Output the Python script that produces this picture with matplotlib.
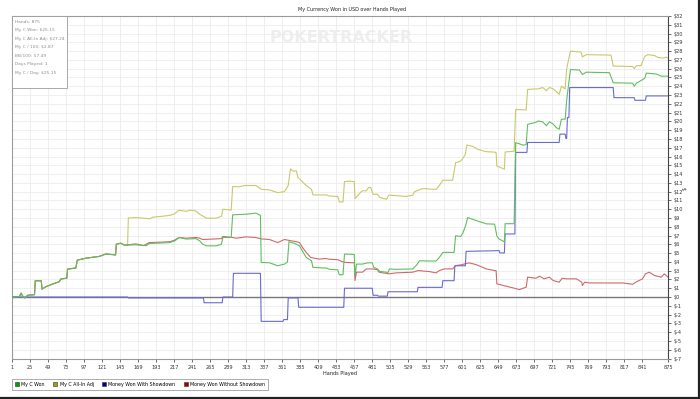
import matplotlib
matplotlib.use("Agg")
import matplotlib.pyplot as plt
from matplotlib.patches import Rectangle, Patch
from matplotlib.lines import Line2D

plt.rcParams['font.family'] = ['DejaVu Sans']

title = "My Currency Won in USD over Hands Played"
x_label = "Hands Played"
y_label = "$"
watermark = "POKERTRACKER"
series_names = ["My C Won", "My C All-In Adj", "Money Won With Showdown", "Money Won Without Showdown"]
stats_lines = ["Hands: 875", "My C Won: $25.15", "My C All-In Adj: $27.24", "My C / 100: $2.87",
               "BB/100: 57.49", "Days Played: 1", "My C / Day: $25.15"]
x_ticks = list(range(1, 842, 24)) + [875]
y_ticks = list(range(-7, 33))

# (hand, dollars) breakpoints
green_pts = [(1, 0), (11, 0.05), (13, 0.45), (16, 0), (18, -0.1), (22, 0.2), (31, 0.27), (32, 1.85), (40, 1.85),
             (41, 0.9), (46, 1.17), (55, 1.48), (64, 1.74), (66, 2.05), (74, 2.15), (75, 3.18), (86, 3.3), (88, 4.2),
             (100, 4.43), (117, 4.62), (126, 4.9), (139, 4.8), (140, 6.02), (146, 6.13), (151, 5.9), (166, 5.95),
             (180, 5.85), (184, 6.1), (200, 6.15), (211, 6.2), (218, 6.4), (224, 6.78), (233, 6.6), (246, 6.65),
             (251, 6.4), (255, 6.02), (260, 5.83), (273, 5.83), (280, 6.0), (282, 6.78), (293, 6.78), (295, 9.36),
             (313, 9.43), (326, 9.55), (332, 9.3), (333, 3.94), (344, 3.9), (355, 3.56), (364, 3.75), (368, 4.0),
             (370, 6.3), (373, 6.21), (378, 6.1), (384, 5.83), (389, 5.08), (393, 4.5), (400, 4.13), (402, 3.37),
             (420, 3.3), (424, 3.15), (435, 3.1), (437, 2.54), (442, 2.54), (444, 4.89), (457, 4.85), (458, 2.43),
             (460, 3.75), (468, 3.75), (475, 3.9), (481, 3.9), (483, 3.37), (488, 3.2), (491, 2.92), (502, 2.8),
             (504, 3.2), (513, 3.15), (535, 3.2), (540, 3.64), (544, 4.13), (557, 4.1), (566, 4.1), (570, 4.47),
             (575, 5.08), (590, 5.08), (592, 6.97), (599, 6.9), (602, 7.35), (606, 8.3), (608, 9.05), (619, 8.72),
             (633, 8.33), (644, 8.3), (647, 6.95), (650, 6.6), (657, 6.29), (658, 8.35), (670, 8.35), (672, 17.58),
             (682, 17.3), (686, 17.35), (688, 19.66), (699, 19.9), (702, 20.04), (708, 19.95), (713, 19.5),
             (717, 19.95), (722, 19.7), (726, 19.3), (730, 19.1), (733, 20.25), (738, 20.25), (740, 22.4),
             (745, 25.9), (757, 25.85), (761, 25.34), (766, 25.6), (797, 25.55), (802, 24.4), (828, 24.35),
             (830, 24.0), (833, 24.35), (844, 24.9), (846, 25.5), (859, 25.4), (866, 25.15), (875, 25.15)]

yellow_pts = [(1, 0), (11, 0.05), (13, 0.45), (16, 0), (18, -0.1), (22, 0.2), (31, 0.27), (32, 1.85), (40, 1.85),
              (41, 0.9), (46, 1.17), (55, 1.48), (64, 1.74), (66, 2.05), (74, 2.15), (75, 3.18), (86, 3.3), (88, 4.2),
              (100, 4.43), (117, 4.62), (126, 4.9), (139, 4.8), (140, 6.02), (146, 6.13), (151, 5.9), (155, 5.9),
              (156, 9.0), (166, 9.05), (180, 8.95), (184, 8.9), (189, 9.1), (202, 9.2), (211, 9.3), (217, 9.43),
              (222, 9.8), (224, 9.89), (233, 9.75), (238, 9.89), (246, 9.8), (251, 9.43), (255, 9.24), (260, 8.98),
              (273, 8.98), (280, 9.2), (282, 10.0), (293, 9.9), (295, 12.58), (304, 12.55), (311, 12.7), (326, 12.7),
              (333, 12.27), (344, 12.2), (355, 11.89), (364, 12.0), (369, 12.7), (372, 14.6), (375, 14.35),
              (380, 14.35), (382, 13.6), (389, 13.03), (393, 12.7), (400, 12.27), (402, 11.63), (420, 11.63),
              (424, 11.5), (435, 11.45), (437, 10.83), (442, 10.83), (444, 13.15), (450, 13.2), (457, 13.15),
              (458, 11.21), (466, 11.97), (468, 12.1), (473, 12.1), (476, 12.46), (479, 12.46), (482, 11.7),
              (488, 11.7), (491, 11.33), (500, 11.14), (503, 11.6), (513, 11.55), (526, 11.45), (535, 11.6),
              (537, 11.97), (542, 12.16), (548, 12.35), (557, 12.3), (566, 12.25), (570, 12.65), (575, 13.3),
              (588, 13.3), (592, 15.3), (597, 15.4), (601, 15.68), (605, 16.25), (607, 17.31), (615, 17.15),
              (622, 16.8), (633, 16.55), (644, 16.5), (646, 16.44), (647, 14.92), (657, 14.55), (658, 16.52),
              (670, 16.6), (672, 21.36), (686, 21.3), (688, 23.64), (699, 23.7), (702, 23.7), (708, 23.86),
              (713, 23.5), (717, 23.86), (722, 23.7), (728, 23.26), (730, 23.07), (733, 24.0), (738, 23.7),
              (740, 26.0), (745, 28.0), (759, 27.9), (761, 27.35), (766, 27.6), (799, 27.55), (802, 26.3),
              (828, 26.25), (830, 26.0), (833, 26.35), (839, 26.35), (844, 27.4), (848, 27.6), (857, 27.5),
              (861, 27.3), (868, 27.2), (872, 27.3), (875, 27.24)]

blue_pts = [(1, 0), (155, 0), (156, -0.1), (256, -0.1), (257, -0.65), (281, -0.65), (282, 0), (295, 0), (296, 2.7),
            (332, 2.7), (333, -2.77), (362, -2.77), (363, -2.57), (368, -2.57), (369, -0.1), (382, -0.1),
            (383, -1.17), (443, -1.17), (444, 1.0), (481, 1.0), (482, 0.2), (488, 0.2), (489, 0.1), (501, 0.1),
            (502, 0.6), (541, 0.6), (542, 1.1), (574, 1.1), (575, 1.86), (590, 1.86), (591, 3.56), (605, 3.56),
            (606, 5.2), (650, 5.28), (651, 5.02), (657, 5.02), (658, 7.18), (671, 7.18), (672, 16.47), (687, 16.47),
            (688, 17.6), (730, 17.6), (731, 18.55), (738, 18.55), (739, 18.06), (740, 18.06), (741, 20.44),
            (743, 20.44), (744, 23.85), (802, 23.85), (803, 22.7), (830, 22.7), (831, 22.4), (845, 22.4),
            (846, 22.9), (875, 22.9)]

red_pts = [(1, 0), (11, 0.05), (13, 0.45), (16, 0), (18, -0.1), (22, 0.2), (31, 0.27), (32, 1.85), (40, 1.85),
           (41, 0.9), (46, 1.17), (55, 1.48), (64, 1.74), (66, 2.05), (74, 2.15), (75, 3.18), (86, 3.3), (88, 4.2),
           (100, 4.43), (117, 4.62), (126, 4.9), (139, 4.8), (140, 6.02), (146, 6.13), (151, 5.9), (166, 6.05),
           (176, 5.85), (184, 6.2), (200, 6.25), (211, 6.3), (217, 6.45), (224, 6.78), (233, 6.7), (246, 6.78),
           (251, 6.7), (255, 6.55), (273, 6.62), (280, 6.65), (282, 6.9), (293, 6.8), (300, 6.7), (313, 6.85),
           (326, 6.78), (333, 6.62), (344, 6.55), (355, 6.2), (364, 6.55), (373, 6.4), (380, 6.3), (384, 6.2),
           (388, 5.64), (393, 5.08), (399, 4.5), (410, 4.32), (419, 4.38), (424, 4.3), (435, 4.25), (442, 4.0),
           (445, 3.94), (457, 3.9), (458, 1.88), (460, 2.83), (468, 2.83), (473, 3.2), (482, 3.2), (488, 3.1),
           (490, 2.83), (503, 2.64), (513, 2.75), (535, 2.83), (542, 3.01), (557, 2.9), (566, 2.75), (570, 3.0),
           (577, 3.2), (588, 3.2), (592, 3.58), (599, 3.66), (610, 3.89), (619, 3.7), (633, 3.2), (644, 3.01),
           (646, 3.0), (647, 1.5), (659, 1.24), (670, 1.01), (677, 0.85), (686, 1.12), (688, 2.26), (699, 2.14),
           (704, 2.37), (710, 2.07), (717, 2.26), (722, 1.88), (730, 1.69), (734, 2.14), (739, 2.07), (753, 2.07),
           (760, 1.69), (761, 1.31), (764, 1.69), (770, 1.61), (797, 1.6), (815, 1.6), (828, 1.45), (832, 1.69),
           (841, 2.07), (845, 2.64), (850, 2.83), (857, 2.45), (866, 2.26), (870, 2.64), (875, 2.27)]

line_colors = ["#5fbf5f", "#c9c96a", "#6a6ad0", "#cc6a6a"]
legend_colors = ["#00a000", "#a0a000", "#000090", "#a00000"]

W, H = 700, 399
fig = plt.figure(figsize=(W / 100, H / 100), dpi=100)
ax = fig.add_axes([12 / W, 1 - 358.5 / H, (668 - 12) / W, (358.5 - 16) / H])
ax.set_xlim(1, 875)
ax.set_ylim(-7, 32)

ax.set_xticks(x_ticks)
ax.set_xticklabels([str(t) for t in x_ticks])
ax.set_yticks(y_ticks)
ax.set_yticklabels([f"${t}" for t in y_ticks])
ax.yaxis.tick_right()
ax.grid(True, color="#ececec", lw=0.6, zorder=0)
ax.set_axisbelow(True)
ax.tick_params(axis="both", direction="out", length=2.5, width=0.5, labelsize=3.6, colors="#333")
ax.tick_params(axis="y", pad=1.5)
ax.tick_params(axis="x", pad=2)
for side in ["left", "top", "bottom"]:
    ax.spines[side].set_color("#9a9a9a")
    ax.spines[side].set_linewidth(0.8)
ax.spines["right"].set_color("#444")
ax.spines["right"].set_linewidth(0.8)

ax.text(341 / W, 1 - 38 / H, watermark, transform=fig.transFigure, fontsize=11.5, fontweight="bold",
        color="#eeeeee", ha="center", va="center", zorder=0.5)

ax.axhline(0, color="#777777", lw=1.0, zorder=2)

draw_order = [(yellow_pts, 1, 3.0), (red_pts, 3, 3.1), (blue_pts, 2, 3.2), (green_pts, 0, 3.3)]
for pts, idx, z in draw_order:
    hs = [p[0] for p in pts]
    vs = [p[1] for p in pts]
    ax.plot(hs, vs, color=line_colors[idx], lw=0.8, zorder=z)

# stats box
ax.add_patch(Rectangle((12 / W, 1 - 88 / H), 54.7 / W, 72 / H, transform=fig.transFigure,
                       facecolor="white", edgecolor="#9a9a9a", lw=0.6, zorder=6, clip_on=False))
for i, s in enumerate(stats_lines):
    fig.text(15 / W, 1 - (21.7 + 8.55 * i) / H, s, fontsize=3.2, color="#8e8e8e", va="center", ha="left",
             zorder=7)

fig.text(352 / W, 1 - 9 / H, title, fontsize=3.5, ha="center", va="center", color="#222")
fig.text(340 / W, 1 - 373 / H, x_label, fontsize=3.6, ha="center", va="center", color="#222")
fig.text(685 / W, 1 - 188 / H, y_label, fontsize=3.6, ha="center", va="center", rotation=90, color="#222")

handles = [Patch(facecolor=c, edgecolor="#333", lw=0.4) for c in legend_colors]
leg = fig.legend(handles, series_names, loc="lower left", bbox_to_anchor=(12 / W, 1 - 389.5 / H), ncol=4,
                 fontsize=3.4, frameon=True, fancybox=False, edgecolor="#888", handlelength=0.9,
                 handleheight=0.9, handletextpad=0.5, columnspacing=1.7, borderpad=0.6, borderaxespad=0)
leg.get_frame().set_linewidth(0.6)

fig.add_artist(Line2D([0, 1], [1 / H, 1 / H], transform=fig.transFigure, color="#222", lw=1.6))
fig.add_artist(Line2D([1 - 1 / W, 1 - 1 / W], [0, 1], transform=fig.transFigure, color="#222", lw=1.6))

fig.savefig("out.png", dpi=100)
